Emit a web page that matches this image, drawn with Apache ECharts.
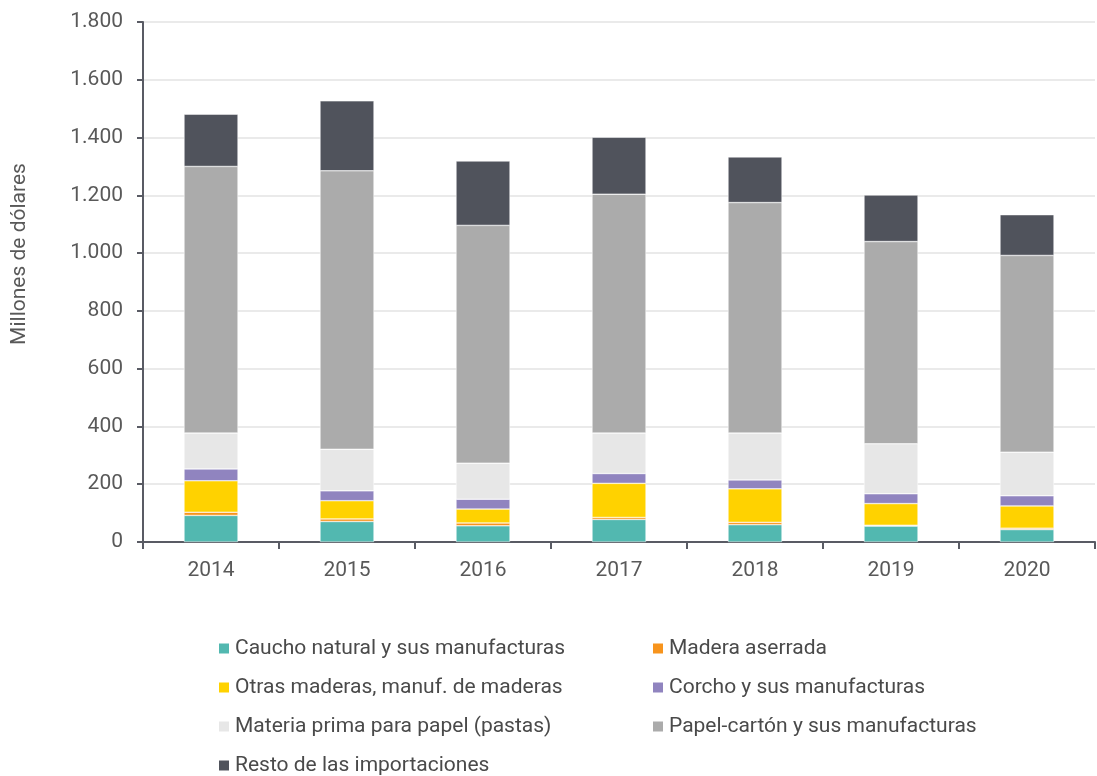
<!DOCTYPE html>
<html>
<head>
<meta charset="utf-8">
<script src="https://cdn.jsdelivr.net/npm/echarts@6/dist/echarts.min.js"></script>
<style>
  html, body { margin: 0; padding: 0; background: #fff; }
  #chart { width: 1097px; height: 776px; }
</style>
</head>
<body>
<div id="chart"></div>
<script>
// 年份
var years = ['2014', '2015', '2016', '2017', '2018', '2019', '2020'];

// 各类别数值 (millones de dólares)
var caucho   = [92, 71, 56, 78, 60, 55, 43];
var madera   = [11, 9, 10, 7, 8, 3, 5];
var otras    = [109, 63, 48, 118, 116, 75, 77];
var corcho   = [41, 34, 34, 34, 31, 34, 35];
var materia  = [124, 144, 125, 140, 162, 173, 151];
var papel    = [923, 964, 823, 827, 798, 700, 681];
var resto    = [181, 242, 223, 197, 158, 161, 141];

var names = [
    'Caucho natural y sus manufacturas',
    'Madera aserrada',
    'Otras maderas, manuf. de maderas',
    'Corcho y sus manufacturas',
    'Materia prima para papel (pastas)',
    'Papel-cartón y sus manufacturas',
    'Resto de las importaciones'
];
var values = [caucho, madera, otras, corcho, materia, papel, resto];
var colors = ['#52b8b0', '#f7941d', '#ffd200', '#9084bf', '#e7e7e7', '#ababab', '#50535c'];

var chart = echarts.init(document.getElementById('chart'));

var series = names.map(function (n, i) {
    return {
        name: n,
        type: 'bar',
        stack: 'total',
        barWidth: 54,
        itemStyle: { color: colors[i], borderColor: '#ffffff', borderWidth: 0.5 },
        data: values[i]
    };
});

var textColor = '#595959';

// 图例: 两列
function legendCol(left, data) {
    return {
        orient: 'vertical',
        left: left,
        top: 633,
        height: 150,
        itemWidth: 12,
        itemHeight: 12,
        itemGap: 18,
        icon: 'rect',
        textStyle: { color: '#4a4a4a', fontSize: 21, fontFamily: 'Roboto' },
        data: data
    };
}

var option = {
    animation: false,
    textStyle: { fontFamily: 'Roboto' },
    grid: { left: 143, right: 2, top: 22, bottom: 234 },
    legend: [
        legendCol(212, [names[0], names[2], names[4], names[6]]),
        legendCol(646, [names[1], names[3], names[5]])
    ],
    graphic: [{
        type: 'text',
        x: 20,
        y: 254,
        rotation: Math.PI / 2,
        style: {
            text: 'Millones de dólares',
            fill: textColor,
            font: '21px Roboto',
            textAlign: 'center',
            textVerticalAlign: 'middle'
        }
    }],
    xAxis: {
        type: 'category',
        data: years,
        axisLine: { lineStyle: { color: '#595b64', width: 2 } },
        axisTick: { show: true, length: 7, lineStyle: { color: '#595b64', width: 2 } },
        axisLabel: { color: textColor, fontSize: 21, margin: 18 }
    },
    yAxis: {
        type: 'value',
        min: 0,
        max: 1800,
        interval: 200,
        axisLine: { show: true, lineStyle: { color: '#595b64', width: 2 } },
        axisTick: { show: true, length: 6, lineStyle: { color: '#595b64', width: 2 } },
        splitLine: { lineStyle: { color: '#e3e3e3', width: 1.5 } },
        axisLabel: {
            color: textColor,
            fontSize: 21,
            margin: 20,
            formatter: function (v) {
                return String(v).replace(/\B(?=(\d{3})+(?!\d))/g, '.');
            }
        }
    },
    series: series
};

chart.setOption(option);
</script>
</body>
</html>
